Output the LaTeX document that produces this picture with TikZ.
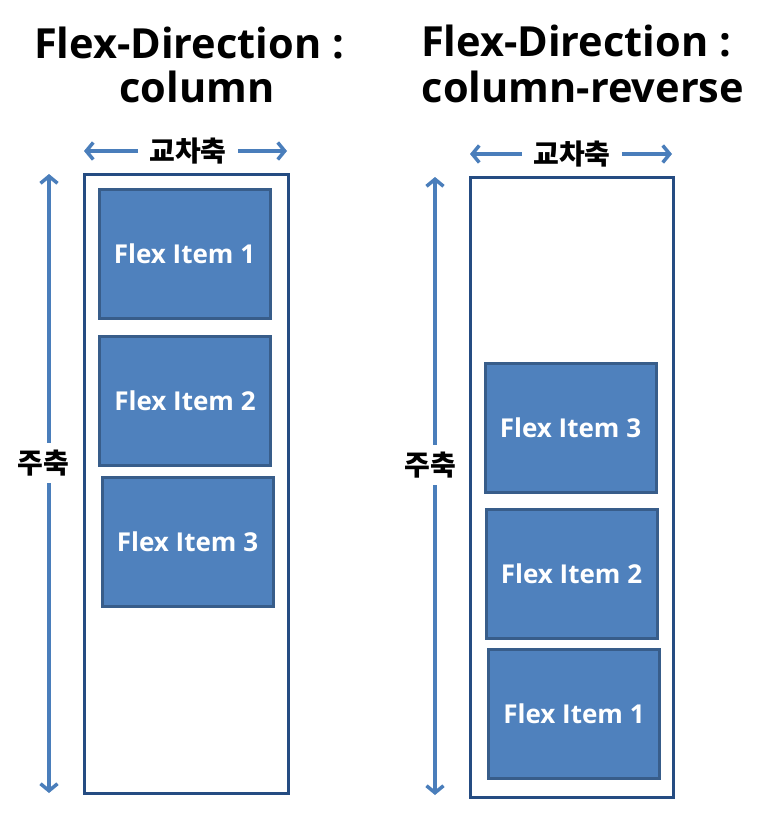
\documentclass[tikz,border=0pt]{standalone}
\usepackage{fontspec}
\setmainfont{Open Sans}
\newfontfamily\kr{Noto Sans CJK KR}
\usetikzlibrary{arrows.meta}
\definecolor{itemfill}{HTML}{4F81BD}
\definecolor{itemedge}{HTML}{385D8A}
\definecolor{boxedge}{HTML}{254C82}
\definecolor{arrowcol}{HTML}{4A7EBB}
\tikzset{
  title/.style={anchor=base, inner sep=0pt, font=\fontsize{41.5}{44}\selectfont\bfseries},
  container/.style={draw=boxedge, line width=3pt, fill=white, inner sep=0pt},
  item/.style={draw=itemedge, line width=3pt, fill=itemfill, text=white, inner sep=0pt,
    minimum width=171pt, minimum height=129pt, font=\fontsize{26}{28}\selectfont\bfseries},
  axislabel/.style={inner sep=0pt, font=\kr\fontsize{28}{30}\selectfont\bfseries},
  arr/.style={draw=arrowcol, line width=3.5pt, -{Straight Barb[length=7pt, width=17pt, line width=3.5pt]}},
}
\begin{document}
\begin{tikzpicture}[x=1pt, y=-1pt]
\useasboundingbox (0,0) rectangle (766,814);
% titles
\node[title] (t1a) at (189,58) {Flex-Direction :};
\node[title] (t1b) at (197,102) {column};
\node[title] (t2a) at (576,56) {Flex-Direction :};
\node[title] (t2b) at (583,102) {column-reverse};
% containers
\node[container, minimum width=204pt, minimum height=619pt] (c1) at (186,483.5) {};
\node[container, minimum width=203pt, minimum height=620pt] (c2) at (571.5,487) {};
% left items
\node[item] (l1) at (184.5,254) {Flex Item 1};
\node[item] (l2) at (185,401) {Flex Item 2};
\node[item] (l3) at (187.5,541.5) {Flex Item 3};
% right items
\node[item] (r3) at (570.5,427.5) {Flex Item 3};
\node[item] (r2) at (571.5,574) {Flex Item 2};
\node[item] (r1) at (574,714) {Flex Item 1};
% cross axis labels and arrows
\node[axislabel, inner xsep=11pt] (x1) at (188,151) {교차축};
\node[axislabel, inner xsep=11pt] (x2) at (572,154) {교차축};
\coordinate (x1l) at (84,151);
\coordinate (x1r) at (287,151);
\coordinate (x2l) at (470,154);
\coordinate (x2r) at (672,154);
\draw[arr] (x1.west) -- (x1l);
\draw[arr] (x1.east) -- (x1r);
\draw[arr] (x2.west) -- (x2l);
\draw[arr] (x2.east) -- (x2r);
% main axis labels and arrows
\node[axislabel, inner ysep=7pt] (m1) at (43,463) {주축};
\node[axislabel, inner ysep=7pt] (m2) at (430,465) {주축};
\coordinate (m1t) at (49,174);
\coordinate (m1b) at (49,793);
\coordinate (m2t) at (435,177);
\coordinate (m2b) at (435,795);
\draw[arr] (m1t |- m1.north) -- (m1t);
\draw[arr] (m1b |- m1.south) -- (m1b);
\draw[arr] (m2t |- m2.north) -- (m2t);
\draw[arr] (m2b |- m2.south) -- (m2b);
\end{tikzpicture}
\end{document}
